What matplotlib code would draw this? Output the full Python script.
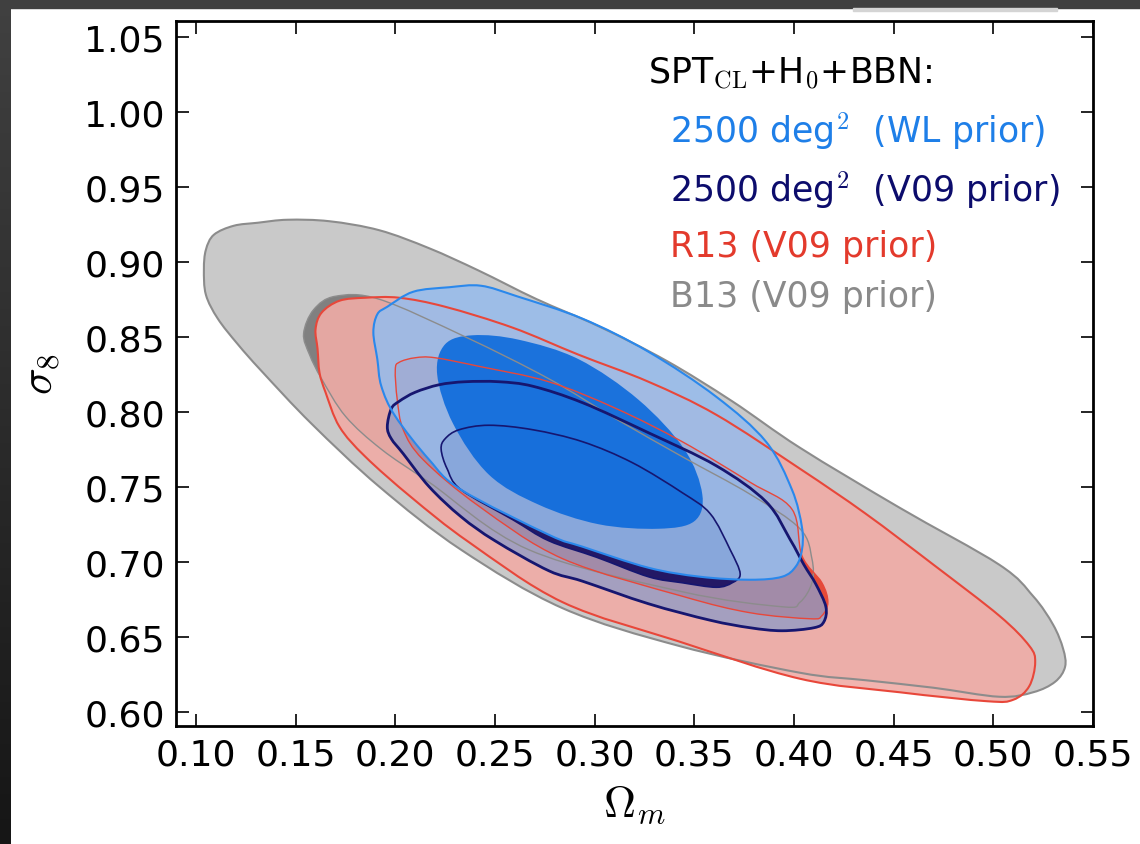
import numpy as np
import matplotlib
matplotlib.use('Agg')
import matplotlib.pyplot as plt
from matplotlib.path import Path
from matplotlib.patches import PathPatch, Rectangle
from matplotlib.colors import LinearSegmentedColormap

plt.rcParams['font.family'] = ['DejaVu Sans']
plt.rcParams['mathtext.fontset'] = 'cm'

# contour outlines: (Omega_m, sigma_8)
b13_95_om = [0.104, 0.105, 0.109, 0.119, 0.131, 0.146, 0.167, 0.192, 0.217, 0.242, 0.271, 0.302,
             0.336, 0.369, 0.403, 0.453, 0.503, 0.520, 0.530, 0.535, 0.536, 0.531, 0.520, 0.503,
             0.470, 0.436, 0.403, 0.342, 0.284, 0.233, 0.192, 0.158, 0.133, 0.121, 0.111, 0.105]
b13_95_s8 = [0.895, 0.908, 0.918, 0.924, 0.926, 0.928, 0.927, 0.921, 0.909, 0.894, 0.875, 0.857,
             0.834, 0.807, 0.776, 0.736, 0.698, 0.677, 0.658, 0.642, 0.630, 0.620, 0.613, 0.610,
             0.616, 0.621, 0.626, 0.644, 0.669, 0.708, 0.750, 0.792, 0.827, 0.845, 0.862, 0.878]

b13_68_om = [0.170, 0.192, 0.235, 0.277, 0.311, 0.344, 0.378, 0.403, 0.409, 0.409, 0.403, 0.394,
             0.344, 0.267, 0.217, 0.193, 0.175, 0.163, 0.157, 0.154, 0.159]
b13_68_s8 = [0.877, 0.875, 0.850, 0.822, 0.795, 0.770, 0.745, 0.722, 0.702, 0.686, 0.673, 0.670,
             0.680, 0.708, 0.753, 0.775, 0.797, 0.822, 0.838, 0.852, 0.868]

r13_95_om = [0.161, 0.160, 0.163, 0.172, 0.185, 0.202, 0.225, 0.259, 0.292, 0.327, 0.361, 0.403,
             0.436, 0.470, 0.503, 0.518, 0.521, 0.518, 0.510, 0.497, 0.453, 0.403, 0.342, 0.284,
             0.237, 0.208, 0.185, 0.172, 0.165, 0.162]
r13_95_s8 = [0.842, 0.855, 0.866, 0.874, 0.876, 0.876, 0.870, 0.856, 0.838, 0.820, 0.798, 0.762,
             0.732, 0.698, 0.664, 0.644, 0.633, 0.617, 0.608, 0.607, 0.613, 0.622, 0.647, 0.673,
             0.713, 0.743, 0.770, 0.790, 0.813, 0.826]

r13_68_om = [0.200, 0.202, 0.210, 0.220, 0.243, 0.277, 0.311, 0.344, 0.378, 0.399, 0.404, 0.414,
             0.417, 0.414, 0.408, 0.378, 0.344, 0.284, 0.242, 0.214, 0.204, 0.201]
r13_68_s8 = [0.828, 0.833, 0.836, 0.836, 0.830, 0.820, 0.802, 0.780, 0.753, 0.735, 0.704, 0.686,
             0.673, 0.664, 0.662, 0.666, 0.677, 0.702, 0.737, 0.768, 0.788, 0.808]

v09_95_om = [0.196, 0.198, 0.202, 0.210, 0.222, 0.235, 0.252, 0.269, 0.294, 0.327, 0.361, 0.386,
             0.398, 0.405, 0.411, 0.416, 0.415, 0.410, 0.394, 0.378, 0.358, 0.327, 0.294, 0.277,
             0.250, 0.233, 0.217, 0.204, 0.198]
v09_95_s8 = [0.790, 0.802, 0.807, 0.813, 0.818, 0.820, 0.820, 0.817, 0.806, 0.786, 0.764, 0.740,
             0.715, 0.698, 0.685, 0.670, 0.660, 0.656, 0.654, 0.656, 0.661, 0.672, 0.687, 0.694,
             0.714, 0.730, 0.750, 0.772, 0.782]

v09_68_om = [0.223, 0.225, 0.232, 0.247, 0.269, 0.294, 0.319, 0.344, 0.358, 0.368, 0.373, 0.369,
             0.361, 0.344, 0.327, 0.301, 0.277, 0.259, 0.233, 0.226]
v09_68_s8 = [0.775, 0.782, 0.788, 0.791, 0.788, 0.780, 0.766, 0.746, 0.732, 0.708, 0.692, 0.686,
             0.683, 0.686, 0.690, 0.703, 0.714, 0.728, 0.748, 0.762]

wl_95_om = [0.189, 0.191, 0.196, 0.209, 0.227, 0.243, 0.261, 0.294, 0.327, 0.361, 0.386, 0.399,
            0.404, 0.404, 0.401, 0.394, 0.378, 0.353, 0.327, 0.294, 0.277, 0.233, 0.217, 0.200,
            0.193, 0.191]
wl_95_s8 = [0.853, 0.865, 0.870, 0.880, 0.883, 0.884, 0.877, 0.862, 0.840, 0.810, 0.780, 0.748,
            0.723, 0.708, 0.697, 0.690, 0.688, 0.690, 0.696, 0.710, 0.718, 0.748, 0.768, 0.797,
            0.817, 0.835]

wl_68_om = [0.221, 0.225, 0.239, 0.262, 0.292, 0.322, 0.345, 0.354, 0.350, 0.332, 0.302, 0.272,
            0.247, 0.229]
wl_68_s8 = [0.825, 0.845, 0.851, 0.848, 0.835, 0.808, 0.775, 0.745, 0.727, 0.722, 0.725, 0.738,
            0.758, 0.792]

x_ticks = [0.10, 0.15, 0.20, 0.25, 0.30, 0.35, 0.40, 0.45, 0.50, 0.55]
y_ticks = [0.60, 0.65, 0.70, 0.75, 0.80, 0.85, 0.90, 0.95, 1.00, 1.05]


def smooth_path(xs, ys):
    # closed Catmull-Rom curve written as cubic bezier segments
    p = np.column_stack([xs, ys])
    n = len(p)
    verts = [p[0]]
    codes = [Path.MOVETO]
    for i in range(n):
        p0, p1, p2, p3 = p[i - 1], p[i], p[(i + 1) % n], p[(i + 2) % n]
        verts += [p1 + (p2 - p0) / 6.0, p2 - (p3 - p1) / 6.0, p2]
        codes += [Path.CURVE4] * 3
    verts.append(p[0])
    codes.append(Path.CLOSEPOLY)
    return Path(verts, codes)


fig = plt.figure(figsize=(11.4, 8.45), dpi=100, facecolor='white')

# dark screen frame around the slide
fig.patches.append(Rectangle((0, 1 - 9 / 845), 1, 9 / 845, transform=fig.transFigure,
                             color='#404040', zorder=0))
fig.patches.append(Rectangle((853 / 1140, 1 - 12 / 845), 204 / 1140, 3 / 845,
                             transform=fig.transFigure, color='#d4d4d4', zorder=0))
bg = fig.add_axes([0, 0, 11 / 1140, 1 - 9 / 845])
bg.imshow(np.linspace(0, 1, 100).reshape(-1, 1), aspect='auto',
          cmap=LinearSegmentedColormap.from_list('frame', ['#404040', '#161616']))
bg.set_axis_off()

ax = fig.add_axes([176 / 1140, 1 - 727 / 845, 917 / 1140, 705 / 845])

contours = [
    (b13_95_om, b13_95_s8, '#c9c9c9', 1.0, '#8c8c8c', 1.5),
    (b13_68_om, b13_68_s8, '#808080', 1.0, '#8c8c8c', 1.0),
    (r13_95_om, r13_95_s8, '#f0aca6', 0.9, '#e8473a', 1.5),
    (r13_68_om, r13_68_s8, '#e4402c', 0.9, '#e8473a', 1.0),
    (v09_95_om, v09_95_s8, '#929cc5', 0.8, '#161670', 2.0),
    (v09_68_om, v09_68_s8, '#1c1262', 0.95, '#161670', 1.2),
    (wl_95_om, wl_95_s8, '#97bcec', 0.88, '#2a88ec', 1.5),
    (wl_68_om, wl_68_s8, '#0868dc', 0.88, 'none', 0),
]

for xs, ys, fc, a, ec, lw in contours:
    ax.add_patch(PathPatch(smooth_path(xs, ys), facecolor=fc, edgecolor='none', alpha=a, zorder=1))
for xs, ys, fc, a, ec, lw in contours:
    if lw > 0:
        ax.add_patch(PathPatch(smooth_path(xs, ys), facecolor='none', edgecolor=ec, lw=lw, zorder=2))

ax.set_xlim(0.09, 0.55)
ax.set_ylim(0.5905, 1.0605)
ax.set_xticks(x_ticks)
ax.set_yticks(y_ticks)
ax.set_xticklabels(['%.2f' % v for v in x_ticks])
ax.set_yticklabels(['%.2f' % v for v in y_ticks])
ax.tick_params(direction='in', top=True, right=True, length=9, width=1.2,
               labelsize=26, pad=8)
for s in ax.spines.values():
    s.set_linewidth(2)

ax.set_xlabel(r'$\Omega_m$', fontsize=32, labelpad=8)
ax.set_ylabel(r'$\sigma_8$', fontsize=32)
ax.yaxis.set_label_coords(-0.124, 0.5)

tx = 0.539
ax.text(0.515, 0.912, r'SPT$_{\rm CL}$+H$_0$+BBN:', transform=ax.transAxes,
        fontsize=25, color='black', va='baseline')
ax.text(tx, 0.828, r'2500 deg$^2$  (WL prior)', transform=ax.transAxes,
        fontsize=25, color='#1e7fe8', va='baseline')
ax.text(tx, 0.745, r'2500 deg$^2$  (V09 prior)', transform=ax.transAxes,
        fontsize=25, color='#0c0c6c', va='baseline')
ax.text(tx, 0.667, 'R13 (V09 prior)', transform=ax.transAxes,
        fontsize=25, color='#e33a2c', va='baseline')
ax.text(tx, 0.596, 'B13 (V09 prior)', transform=ax.transAxes,
        fontsize=25, color='#8a8a8a', va='baseline')

fig.savefig('out.png', dpi=100, facecolor=fig.get_facecolor())
